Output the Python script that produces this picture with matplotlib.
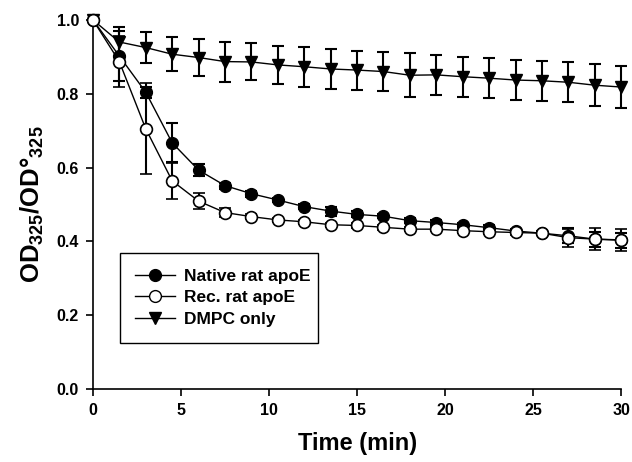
import matplotlib
matplotlib.use("Agg")
import matplotlib.pyplot as plt
from matplotlib.lines import Line2D

plt.rcParams['font.family'] = ['Liberation Sans', 'DejaVu Sans']
plt.rcParams['font.weight'] = 'bold'
plt.rcParams['mathtext.fontset'] = 'custom'
plt.rcParams['mathtext.rm'] = 'Liberation Sans:bold'
plt.rcParams['mathtext.bf'] = 'Liberation Sans:bold'
plt.rcParams['mathtext.it'] = 'Liberation Sans:bold'

time = [0, 1.5, 3, 4.5, 6, 7.5, 9, 10.5, 12, 13.5, 15, 16.5, 18, 19.5, 21, 22.5, 24, 25.5, 27, 28.5, 30]

native = [1.0, 0.902, 0.804, 0.667, 0.593, 0.551, 0.529, 0.512, 0.494, 0.482, 0.473,
          0.468, 0.456, 0.451, 0.445, 0.437, 0.428, 0.422, 0.415, 0.406, 0.403]
native_err = [0, 0.067, 0.015, 0.053, 0.017, 0.008, 0.008, 0.006, 0.006, 0.012, 0.008,
              0.006, 0.007, 0.006, 0.006, 0.006, 0.006, 0.006, 0.02, 0.02, 0.02]

rec = [1.0, 0.887, 0.705, 0.564, 0.509, 0.478, 0.467, 0.458, 0.453, 0.445, 0.443,
       0.438, 0.433, 0.433, 0.429, 0.426, 0.424, 0.422, 0.41, 0.406, 0.404]
rec_err = [0, 0.068, 0.123, 0.048, 0.021, 0.012, 0.006, 0.006, 0.006, 0.006, 0.006,
           0.006, 0.006, 0.006, 0.006, 0.006, 0.006, 0.006, 0.024, 0.03, 0.03]

dmpc = [1.0, 0.94, 0.925, 0.907, 0.898, 0.887, 0.886, 0.878, 0.873, 0.867, 0.864,
        0.86, 0.85, 0.851, 0.846, 0.842, 0.837, 0.835, 0.831, 0.823, 0.818]
dmpc_err = [0, 0.04, 0.043, 0.046, 0.049, 0.054, 0.05, 0.052, 0.054, 0.054, 0.053,
            0.053, 0.059, 0.054, 0.054, 0.054, 0.054, 0.054, 0.054, 0.057, 0.058]

labels = ["Native rat apoE", "Rec. rat apoE", "DMPC only"]

fig = plt.figure(figsize=(6.32, 4.62), dpi=100)
ax = fig.add_axes([0.147, 0.158, 0.836, 0.799])

ekw = dict(color='black', ecolor='black', elinewidth=1.5, capsize=4.3, capthick=1.5,
           linewidth=1.0, clip_on=False)

e3 = ax.errorbar(time, dmpc, yerr=dmpc_err, marker='v', markersize=9,
                 markerfacecolor='black', markeredgecolor='black', zorder=3, **ekw)
e1 = ax.errorbar(time, native, yerr=native_err, marker='o', markersize=8.5,
                 markerfacecolor='black', markeredgecolor='black', zorder=4, **ekw)
e2 = ax.errorbar(time, rec, yerr=rec_err, marker='o', markersize=8.5,
                 markerfacecolor='white', markeredgecolor='black', markeredgewidth=1.2,
                 zorder=5, **ekw)
for e in (e1, e2, e3):
    line, caps, bars = e.lines
    for c in caps:
        c.set_clip_on(False)
    for b in bars:
        b.set_clip_on(False)

ax.set_xlim(0, 30)
ax.set_ylim(0, 1.0)
ax.set_xticks([0, 5, 10, 15, 20, 25, 30])
ax.set_yticks([0.0, 0.2, 0.4, 0.6, 0.8, 1.0])
ax.set_yticklabels(["0.0", "0.2", "0.4", "0.6", "0.8", "1.0"])
ax.spines['top'].set_visible(False)
ax.spines['right'].set_visible(False)
for s in ('left', 'bottom'):
    ax.spines[s].set_linewidth(1.2)
ax.tick_params(direction='out', length=5, width=1.2, labelsize=11.5, pad=5)
for t in ax.get_xticklabels() + ax.get_yticklabels():
    t.set_fontweight('bold')

ax.set_xlabel("Time (min)", fontsize=17, fontweight='bold', labelpad=10)
ax.set_ylabel(r"$\mathbf{OD_{325}/OD°_{325}}$", fontsize=18.5, labelpad=8)

handles = [
    Line2D([], [], color='black', lw=1.0, marker='o', markersize=8.5,
           markerfacecolor='black', markeredgecolor='black'),
    Line2D([], [], color='black', lw=1.0, marker='o', markersize=8.5,
           markerfacecolor='white', markeredgecolor='black'),
    Line2D([], [], color='black', lw=1.0, marker='v', markersize=9,
           markerfacecolor='black', markeredgecolor='black'),
]
leg = ax.legend(handles, labels, loc='lower left', bbox_to_anchor=(0.051, 0.125, 0.375, 0.233),
                mode='expand', fancybox=False, framealpha=1, edgecolor='black',
                prop={'weight': 'bold', 'size': 12.5}, handlelength=2.3,
                labelspacing=0.38, borderpad=0.9, handletextpad=0.5, borderaxespad=0)
leg.get_frame().set_linewidth(1.0)

fig.savefig("out.png", dpi=100)
